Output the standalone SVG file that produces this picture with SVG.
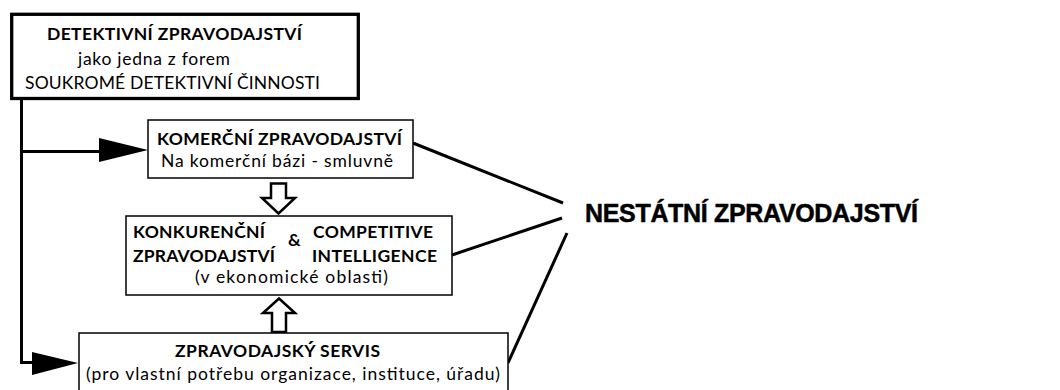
<svg xmlns="http://www.w3.org/2000/svg" width="1060" height="390" viewBox="0 0 1060 390">
<style>
.t{font-family:Lato,"Open Sans","Liberation Sans",sans-serif;font-size:17.5px;fill:#000}
.b{font-weight:bold}
.box{fill:#fff;stroke:#000;stroke-width:1.5}
.ln{stroke:#000;stroke-width:3;fill:none}
.hollow{fill:#fff;stroke:#000;stroke-width:2.5;stroke-linejoin:miter}
.big{font-family:"Liberation Sans",Arial,sans-serif;font-weight:bold;font-size:25px;fill:#000;stroke:#000;stroke-width:0.5}
</style>
<rect width="1060" height="390" fill="#fff"/>
<g id="connectors">
  <path class="ln" d="M21.5,99 V362.5 H34"/>
  <path class="ln" d="M21.5,151.5 H100"/>
  <polygon points="99,138 148,150 99,162" fill="#000"/>
  <polygon points="32,352 78,363 32,375" fill="#000"/>
  <path class="hollow" d="M271,183.5 H286 V198 H295 L278.5,213.5 L262,198 H271 Z"/>
  <path class="hollow" d="M279,298.5 L295,313 H286 V332 H272 V313 H263 Z"/>
  <line class="ln" x1="413" y1="143" x2="563" y2="203"/>
  <line class="ln" x1="452" y1="255" x2="562" y2="218"/>
  <line class="ln" x1="508" y1="363" x2="567" y2="233"/>
</g>
<g id="detektivni">
  <rect x="11.7" y="14.3" width="346.6" height="84.2" fill="#fff" stroke="#000" stroke-width="3.3"/>
  <text class="t b" x="47" y="40" textLength="255">DETEKTIVNÍ ZPRAVODAJSTVÍ</text>
  <text class="t" x="78" y="65" textLength="152">jako jedna z forem</text>
  <text class="t" x="25" y="89" textLength="295">SOUKROMÉ DETEKTIVNÍ ČINNOSTI</text>
</g>
<g id="komercni">
  <rect class="box" x="148" y="120" width="265" height="58"/>
  <text class="t b" x="157" y="145" textLength="245">KOMERČNÍ ZPRAVODAJSTVÍ</text>
  <text class="t" x="161" y="167" textLength="232">Na komerční bázi - smluvně</text>
</g>
<g id="konkurencni">
  <rect class="box" x="126" y="216" width="326" height="79"/>
  <text class="t b" x="133" y="238" textLength="132">KONKURENČNÍ</text>
  <text class="t b" x="133" y="262" textLength="142">ZPRAVODAJSTVÍ</text>
  <text class="t b" x="288" y="246" textLength="14">&amp;</text>
  <text class="t b" x="313" y="238" textLength="120">COMPETITIVE</text>
  <text class="t b" x="312" y="262" textLength="125">INTELLIGENCE</text>
  <text class="t" x="195" y="283" textLength="193">(v ekonomické oblasti)</text>
</g>
<g id="servis">
  <rect class="box" x="79" y="333" width="429" height="70"/>
  <text class="t b" x="175" y="357" textLength="205">ZPRAVODAJSKÝ SERVIS</text>
  <text class="t" x="86" y="380" textLength="414">(pro vlastní potřebu organizace, instituce, úřadu)</text>
</g>
<g id="nestatni">
  <text class="big" x="585" y="222" textLength="333">NESTÁTNÍ ZPRAVODAJSTVÍ</text>
</g>
</svg>
